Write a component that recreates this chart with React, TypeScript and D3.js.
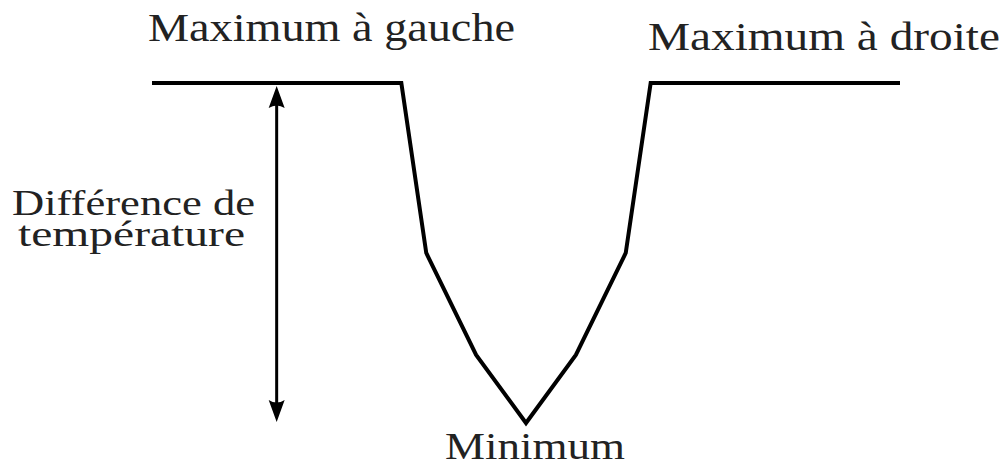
import React from "react";
import * as d3 from "d3";

const profileX = [0, 10, 11, 13, 15, 17, 19, 20, 30];
const profileT = [10, 10, 5, 2, 0, 2, 5, 10, 10];
const arrowX = 5;
const arrowFrom = 10;
const arrowTo = 0;
const labelMaxLeft = "Maximum à gauche";
const labelMaxRight = "Maximum à droite";
const labelDiff = ["Différence de", "température"];
const labelMin = "Minimum";

export default function App() {
  const W = 1005;
  const H = 466;
  const x = d3.scaleLinear().domain([0, 30]).range([152, 900]);
  const y = d3.scaleLinear().domain([0, 10]).range([423, 83]);
  const line = d3
    .line<number>()
    .x((_, i) => x(profileX[i]))
    .y((d) => y(d));
  const ax = x(arrowX);
  const yTop = y(arrowFrom) + 3;
  const yBot = y(arrowTo) - 1;
  const headL = 22;
  const headW = 8;
  const font = "'Liberation Serif', 'Times New Roman', serif";
  return (
    <svg
      width={W}
      height={H}
      style={{ position: "absolute", left: 0, top: 0, background: "#fff" }}
    >
      <path
        d={line(profileT) || ""}
        fill="none"
        stroke="#000"
        strokeWidth={4}
        strokeLinejoin="miter"
      />
      <line
        x1={ax}
        x2={ax}
        y1={yTop + headL - 4}
        y2={yBot - headL + 4}
        stroke="#000"
        strokeWidth={3}
      />
      <path
        d={`M${ax},${yTop} L${ax - headW},${yTop + headL} Q${ax},${yTop + headL - 5} ${ax + headW},${yTop + headL} Z`}
        fill="#000"
      />
      <path
        d={`M${ax},${yBot} L${ax - headW},${yBot - headL} Q${ax},${yBot - headL + 5} ${ax + headW},${yBot - headL} Z`}
        fill="#000"
      />
      <g fontFamily={font} fill="#222">
        <text x={148} y={41} fontSize={41} textLength={367} lengthAdjust="spacingAndGlyphs">
          {labelMaxLeft}
        </text>
        <text x={648} y={50} fontSize={39} textLength={352} lengthAdjust="spacingAndGlyphs">
          {labelMaxRight}
        </text>
        <text x={12} y={215} fontSize={35} textLength={243} lengthAdjust="spacingAndGlyphs">
          {labelDiff[0]}
        </text>
        <text x={18} y={246} fontSize={35} textLength={227} lengthAdjust="spacingAndGlyphs">
          {labelDiff[1]}
        </text>
        <text x={445} y={459} fontSize={38} textLength={180} lengthAdjust="spacingAndGlyphs">
          {labelMin}
        </text>
      </g>
    </svg>
  );
}
